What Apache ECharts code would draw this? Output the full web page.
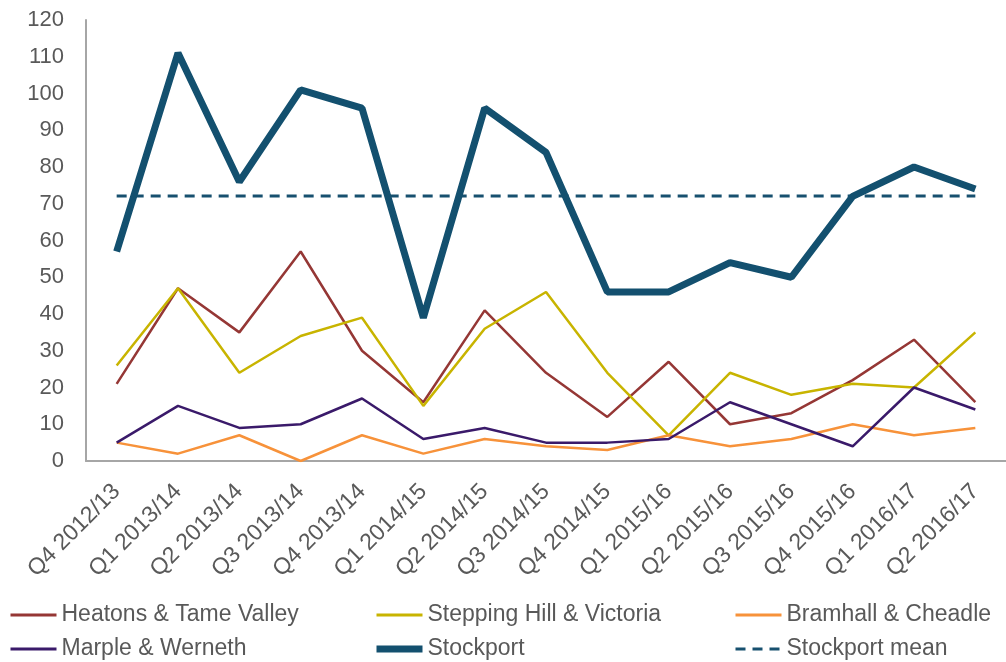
<!DOCTYPE html>
<html>
<head>
<meta charset="utf-8">
<script src="https://cdn.jsdelivr.net/npm/echarts@6/dist/echarts.min.js"></script>
<style>
  html, body { margin: 0; padding: 0; background: #fff; }
  #chart { width: 1006px; height: 662px; }
</style>
</head>
<body>
<div id="chart"></div>
<script>
// quarters on the x axis
var quarters = ['Q4 2012/13','Q1 2013/14','Q2 2013/14','Q3 2013/14','Q4 2013/14',
  'Q1 2014/15','Q2 2014/15','Q3 2014/15','Q4 2014/15','Q1 2015/16',
  'Q2 2015/16','Q3 2015/16','Q4 2015/16','Q1 2016/17','Q2 2016/17'];

var heatons      = [21, 47, 35, 57, 30, 16, 41, 24, 12, 27, 10, 13, 22, 33, 16];
var steppingHill = [26, 47, 24, 34, 39, 15, 36, 46, 24, 7, 24, 18, 21, 20, 35];
var bramhall     = [5, 2, 7, 0, 7, 2, 6, 4, 3, 7, 4, 6, 10, 7, 9];
var marple       = [5, 15, 9, 10, 17, 6, 9, 5, 5, 6, 16, 10, 4, 20, 14];
var stockport    = [57, 111, 76, 101, 96, 39, 96, 84, 46, 46, 54, 50, 72, 80, 74];
var stockportMean = [72.1, 72.1, 72.1, 72.1, 72.1, 72.1, 72.1, 72.1, 72.1, 72.1, 72.1, 72.1, 72.1, 72.1, 72.1];

var yTicks = [0, 120, 10]; // min, max, interval

var txt = '#595959';
var font = 'Liberation Sans, Arial, sans-serif';

var chart = echarts.init(document.getElementById('chart'));

function legendCol(left, items) {
  return {
    orient: 'vertical',
    left: left,
    top: 603,
    padding: 0,
    itemWidth: 46,
    itemHeight: 14,
    itemGap: 10,
    data: items.map(function (it) {
      return { name: it[0], lineStyle: { width: it[1] } };
    }),
    itemStyle: { opacity: 0 },
    textStyle: { color: txt, fontSize: 23, lineHeight: 24, fontFamily: font }
  };
}

function lineSeries(name, data, color, width, dashed) {
  return {
    name: name,
    type: 'line',
    data: data,
    symbol: 'none',
    color: color,
    lineStyle: { width: width, color: color, type: dashed ? [10, 7] : 'solid' },
    emphasis: { disabled: true }
  };
}

chart.setOption({
  animation: false,
  backgroundColor: '#fff',
  grid: { left: 86, right: -11, top: 20, bottom: 201, containLabel: false },
  legend: [
    legendCol(9, [['Heatons & Tame Valley', 3], ['Marple & Werneth', 3]]),
    legendCol(373, [['Stepping Hill & Victoria', 3], ['Stockport', 7]]),
    legendCol(734, [['Bramhall & Cheadle', 3], ['Stockport mean', 3]])
  ],
  xAxis: {
    type: 'category',
    data: quarters,
    boundaryGap: true,
    axisLine: { lineStyle: { color: '#A6A6A6', width: 2 } },
    axisTick: { show: false },
    axisLabel: { rotate: 45, interval: 0, margin: 27, color: txt, fontSize: 23, fontFamily: font }
  },
  yAxis: {
    type: 'value',
    min: yTicks[0],
    max: yTicks[1],
    interval: yTicks[2],
    axisLine: { show: true, lineStyle: { color: '#A6A6A6', width: 2 } },
    axisTick: { show: false },
    splitLine: { show: false },
    axisLabel: { margin: 22, color: txt, fontSize: 22, fontFamily: font }
  },
  series: [
    lineSeries('Heatons & Tame Valley', heatons, '#953735', 2.5),
    lineSeries('Stepping Hill & Victoria', steppingHill, '#C8B400', 2.5),
    lineSeries('Bramhall & Cheadle', bramhall, '#F7923A', 2.5),
    lineSeries('Marple & Werneth', marple, '#3A1A6A', 2.5),
    lineSeries('Stockport mean', stockportMean, '#17506F', 3, true),
    lineSeries('Stockport', stockport, '#13506F', 7)
  ]
});
</script>
</body>
</html>
